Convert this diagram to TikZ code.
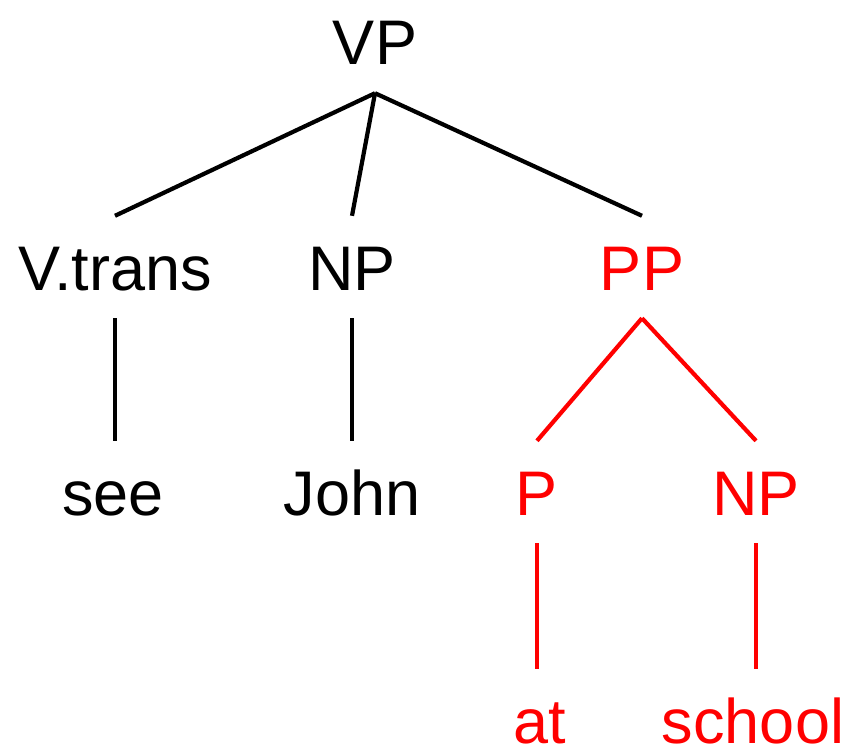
\documentclass[tikz,border=0pt]{standalone}
\usepackage{fontspec}
\setmainfont{Liberation Sans}
\begin{document}
\begin{tikzpicture}[x=1pt,y=-1pt,
  lab/.style={font=\fontsize{63}{70}\selectfont, inner xsep=0pt, inner ysep=28pt,
    text height=46pt, text depth=0pt, anchor=base},
  red lab/.style={lab, text=red},
  leaf/.style={red lab, inner ysep=0pt, text height=74pt},
  br/.style={line width=4.2pt, black},
  rbr/.style={line width=4.2pt, red}]
\useasboundingbox (0,0) rectangle (867,749);
\node[lab] (vp) at (375,65) {VP};
\node[lab] (v) at (115,290) {V.trans};
\node[lab] (np1) at (352,290) {NP};
\node[red lab] (pp) at (642,290) {PP};
\node[lab] (see) at (113,515) {see};
\node[lab] (john) at (352,515) {John};
\node[red lab] (p) at (537,515) {P};
\node[red lab] (np2) at (756,515) {NP};
\node[leaf] (at) at (540,743) {at};
\node[leaf] (school) at (753,743) {school};
\draw[br] (vp.south) -- (v.north);
\draw[br] (vp.south) -- (np1.north);
\draw[br] (vp.south) -- (pp.north);
\draw[br] (v.south) -- (see.north -| v.south);
\draw[br] (np1.south) -- (john.north -| np1.south);
\draw[rbr] (pp.south) -- (p.north);
\draw[rbr] (pp.south) -- (np2.north);
\draw[rbr] (p.south) -- (at.north -| p.south);
\draw[rbr] (np2.south) -- (school.north -| np2.south);
\end{tikzpicture}
\end{document}
